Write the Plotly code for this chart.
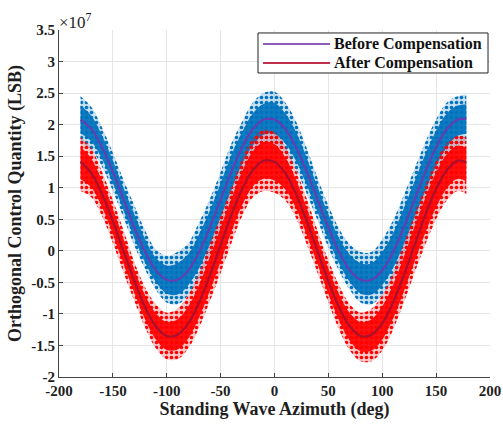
import plotly.graph_objects as go

# Azimuth samples (deg)
azimuth = [-180, -170, -160, -150, -140, -130, -120, -110, -100, -90, -80, -70, -60, -50, -40, -30, -20, -10,
           0, 10, 20, 30, 40, 50, 60, 70, 80, 90, 100, 110, 120, 130, 140, 150, 160, 170, 178]

# Values in units of 1e7 LSB
before_fit = [2.08, 1.93, 1.64, 1.25, 0.81, 0.37, -0.02, -0.31, -0.46, -0.46, -0.31, -0.02, 0.37, 0.81, 1.25, 1.64, 1.93, 2.08,
              2.08, 1.93, 1.64, 1.25, 0.81, 0.37, -0.02, -0.31, -0.46, -0.46, -0.31, -0.02, 0.37, 0.81, 1.25, 1.64, 1.93, 2.08, 2.09]
before_hi = [2.45, 2.28, 1.95, 1.55, 1.12, 0.72, 0.32, 0.02, -0.08, -0.02, 0.12, 0.45, 0.82, 1.25, 1.70, 2.05, 2.35, 2.50,
             2.52, 2.35, 2.05, 1.62, 1.15, 0.72, 0.35, 0.10, -0.02, -0.02, 0.18, 0.48, 0.88, 1.30, 1.72, 2.08, 2.35, 2.45, 2.48]
before_lo = [1.72, 1.60, 1.33, 0.95, 0.52, 0.08, -0.30, -0.62, -0.82, -0.85, -0.70, -0.45, -0.08, 0.35, 0.78, 1.20, 1.50, 1.68,
             1.70, 1.55, 1.28, 0.90, 0.48, 0.05, -0.32, -0.62, -0.82, -0.85, -0.70, -0.45, -0.08, 0.35, 0.75, 1.15, 1.45, 1.65, 1.70]

after_fit = [1.41, 1.23, 0.90, 0.47, -0.01, -0.48, -0.90, -1.20, -1.35, -1.33, -1.15, -0.82, -0.39, 0.09, 0.57, 0.98, 1.28, 1.43,
             1.41, 1.23, 0.90, 0.47, -0.01, -0.48, -0.90, -1.20, -1.35, -1.33, -1.15, -0.82, -0.39, 0.09, 0.57, 0.98, 1.28, 1.43, 1.40]
after_hi = [1.80, 1.62, 1.25, 0.80, 0.32, -0.18, -0.58, -0.85, -0.98, -0.92, -0.70, -0.35, 0.10, 0.55, 1.00, 1.45, 1.78, 1.92,
            1.88, 1.65, 1.28, 0.82, 0.32, -0.15, -0.55, -0.85, -0.98, -0.92, -0.70, -0.35, 0.10, 0.58, 1.02, 1.42, 1.70, 1.82, 1.80]
after_lo = [0.95, 0.85, 0.55, 0.12, -0.35, -0.80, -1.22, -1.55, -1.72, -1.72, -1.55, -1.22, -0.80, -0.35, 0.12, 0.55, 0.85, 0.95,
            0.92, 0.80, 0.52, 0.10, -0.35, -0.82, -1.25, -1.58, -1.75, -1.75, -1.58, -1.25, -0.82, -0.35, 0.10, 0.50, 0.80, 0.95, 0.90]

series_names = ["Before Compensation", "After Compensation"]

ytick_vals = [-2, -1.5, -1, -0.5, 0, 0.5, 1, 1.5, 2, 2.5, 3, 3.5]
ytick_text = ["-2", "-1.5", "-1", "-0.5", "0", "0.5", "1", "1.5", "2", "2.5", "3", "3.5"]
xtick_vals = [-200, -150, -100, -50, 0, 50, 100, 150, 200]

SERIF = "Liberation Serif, Times New Roman, serif"
TXT = "#1e1e1e"

fig = go.Figure()


def band(lo, hi, **fill):
    fig.add_trace(go.Scatter(x=azimuth, y=lo, mode="lines", line=dict(width=0, shape="spline"),
                             hoverinfo="skip", showlegend=False))
    fig.add_trace(go.Scatter(x=azimuth, y=hi, mode="lines", line=dict(width=0, shape="spline"),
                             fill="tonexty", hoverinfo="skip", showlegend=False, **fill))


def add_cloud(fit, hi, lo, solid, rgb):
    # sparse dotted outer part of the point cloud
    band(lo, hi, fillcolor="rgba(0,0,0,0)",
         fillpattern=dict(shape=".", fgcolor=solid, bgcolor="rgba(255,255,255,0)",
                          size=5, solidity=0.4, fgopacity=1))
    band(lo, hi, fillcolor=f"rgba({rgb},0.22)")
    # denser core
    core_hi = [f + 0.6 * (h - f) for f, h in zip(fit, hi)]
    core_lo = [f - 0.6 * (f - l) for f, l in zip(fit, lo)]
    band(core_lo, core_hi, fillcolor=f"rgba({rgb},0.92)")


add_cloud(before_fit, before_hi, before_lo, "rgb(0,114,189)", "0,114,189")
add_cloud(after_fit, after_hi, after_lo, "rgb(255,0,0)", "255,0,0")

fig.add_trace(go.Scatter(x=azimuth, y=before_fit, mode="lines", name=series_names[0], showlegend=False,
                         line=dict(color="rgb(98,62,178)", width=2.2, shape="spline")))
fig.add_trace(go.Scatter(x=azimuth, y=after_fit, mode="lines", name=series_names[1], showlegend=False,
                         line=dict(color="#A8102C", width=2.2, shape="spline")))

fig.update_layout(
    width=503, height=426,
    margin=dict(l=59, r=13, t=30, b=49),
    paper_bgcolor="white", plot_bgcolor="white",
    font=dict(family=SERIF, size=15, color=TXT),
    showlegend=False,
    xaxis=dict(range=[-200, 200], tickvals=xtick_vals, ticktext=[str(v) for v in xtick_vals],
               automargin=False,
               showgrid=True, gridcolor="#e6e6e6", gridwidth=1, zeroline=False,
               showline=True, linecolor="#444444", linewidth=1, mirror=False,
               ticks="inside", ticklen=4, tickcolor="#444444",
               tickfont=dict(family=SERIF, size=15, color=TXT, weight="bold"),
               title=dict(text="<b>Standing Wave Azimuth (deg)</b>", standoff=4,
                          font=dict(family=SERIF, size=18, color=TXT))),
    yaxis=dict(range=[-2, 3.5], tickvals=ytick_vals, ticktext=ytick_text,
               automargin=False,
               showgrid=True, gridcolor="#e6e6e6", gridwidth=1, zeroline=False,
               showline=True, linecolor="#444444", linewidth=1, mirror=False,
               ticks="inside", ticklen=4, tickcolor="#444444",
               tickfont=dict(family=SERIF, size=15, color=TXT, weight="bold"),
               title=dict(text="<b>Orthogonal Control Quantity (LSB)</b>", standoff=4,
                          font=dict(family=SERIF, size=18, color=TXT))),
)

# exponent label
fig.add_annotation(x=0, y=1, xref="paper", yref="paper", xanchor="left", yanchor="bottom",
                   text="×10<sup>7</sup>", showarrow=False, xshift=-2, yshift=-4,
                   font=dict(family=SERIF, size=17, color=TXT))

# legend box drawn to match the original's long line samples
fig.add_shape(type="rect", xref="paper", yref="paper", x0=0.4617, x1=0.9954, y0=0.8761, y1=0.9914,
              line=dict(color="#222222", width=1), fillcolor="white", layer="above")
legend_colors = ["#8E5CB8", "#C0304A"]
legend_y = [0.9597, 0.9049]
for name, col, yy in zip(series_names, legend_colors, legend_y):
    fig.add_shape(type="line", xref="paper", yref="paper", x0=0.4733, x1=0.6288, y0=yy, y1=yy,
                  line=dict(color=col, width=2), layer="above")
    fig.add_annotation(x=0.6334, y=yy, xref="paper", yref="paper", xanchor="left", yanchor="middle",
                       text=f"<b>{name}</b>", showarrow=False,
                       font=dict(family=SERIF, size=16, color="#111111"))

fig.write_html("out.html")
